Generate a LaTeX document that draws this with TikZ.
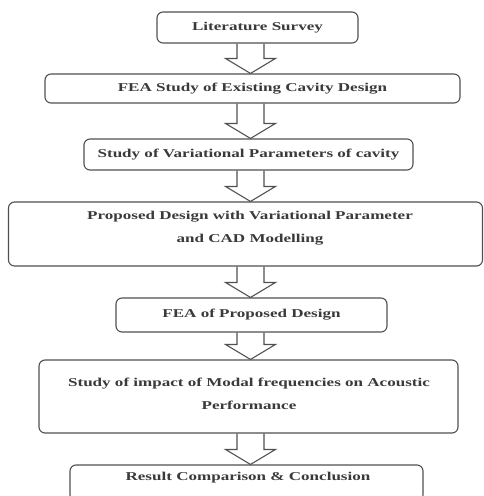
\documentclass[tikz,border=0pt]{standalone}
\usepackage{fontspec}
\setmainfont[FakeStretch=1.42]{Liberation Serif}
\usetikzlibrary{calc}
\definecolor{ink}{HTML}{3A3A3A}
\definecolor{edge}{HTML}{505050}
\tikzset{
  box/.style={draw=edge, line width=1.1pt, rounded corners=6pt, fill=white,
              inner sep=0pt, text=ink, font=\fontsize{12}{23}\selectfont\bfseries},
  txt/.style={inner sep=0pt, text=ink, align=center, font=\fontsize{12}{23}\selectfont\bfseries},
  arr/.style={draw=edge, line width=1.1pt, line join=miter}
}
\newcommand\flowarrow[2]{%
  \draw[arr] ($(ax |- #1.south)+(-13.5,0)$) -- ($(ax |- #2.north)+(-13.5,-15)$)
    -- ($(ax |- #2.north)+(-25,-15)$) -- (ax |- #2.north)
    -- ($(ax |- #2.north)+(25,-15)$) -- ($(ax |- #2.north)+(13.5,-15)$)
    -- ($(ax |- #1.south)+(13.5,0)$);}
\begin{document}
\begin{tikzpicture}[x=1pt,y=-1pt]
\useasboundingbox[fill=white] (0,0) rectangle (484,496);
\coordinate (ax) at (250.5,0);
\node[box, minimum width=201pt, minimum height=31pt] (b1) at (257.5,27.5) {Literature Survey};
\node[box, minimum width=415pt, minimum height=29pt] (b2) at (252.5,88.5) {FEA Study of Existing Cavity Design};
\node[box, minimum width=329pt, minimum height=31pt] (b3) at (248.5,154.5) {Study of Variational Parameters of cavity};
\node[box, minimum width=474pt, minimum height=64pt] (b4) at (245.5,234) {};
\node[txt] (t4) at (250,228.5) {Proposed Design with Variational Parameter\\and CAD Modelling};
\node[box, minimum width=271pt, minimum height=34pt] (b5) at (251.5,315) {FEA of Proposed Design};
\node[box, minimum width=419pt, minimum height=73pt] (b6) at (248.5,396.5) {};
\node[txt] (t6) at (249,393.5) {Study of impact of Modal frequencies on Acoustic\\Performance};
\node[box, minimum width=353pt, minimum height=36pt] (b7) at (246.5,483) {};
\node[txt] (t7) at (248,477.5) {Result Comparison \& Conclusion};
\flowarrow{b1}{b2}
\flowarrow{b2}{b3}
\flowarrow{b3}{b4}
\flowarrow{b4}{b5}
\flowarrow{b5}{b6}
\flowarrow{b6}{b7}
\end{tikzpicture}
\end{document}
